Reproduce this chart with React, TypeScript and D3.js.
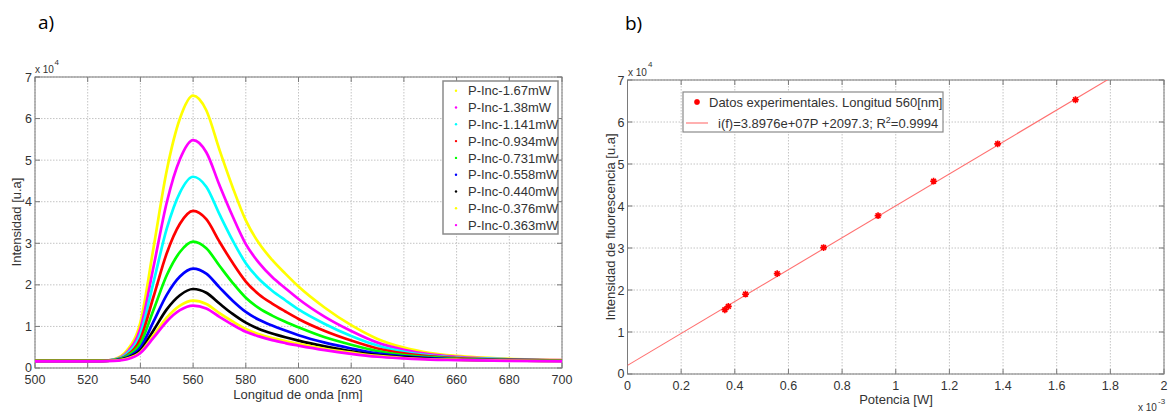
import React from 'react';
import * as d3 from 'd3';

// ---- panel a) : emission spectra ----
const wavelengths = [500, 525, 530, 535, 540, 545, 550, 555, 560, 565, 570, 575, 580, 585, 590, 595, 600, 610, 620, 630, 640, 650, 660, 680, 700];

const spec167 = [1700, 1700, 2100, 4300, 11000, 29000, 47500, 60000, 65500, 62000, 52500, 43500, 35500, 30000, 26000, 22700, 19600, 14500, 10300, 7000, 4900, 3600, 2900, 2200, 1900];
const spec138 = [1700, 1700, 2000, 3800, 9500, 24400, 39800, 50200, 54800, 51900, 44000, 36500, 29800, 25300, 21900, 19200, 16600, 12300, 8900, 6100, 4400, 3300, 2700, 2100, 1900];
const spec1141 = [1700, 1700, 2000, 3500, 8200, 20700, 33500, 42200, 46000, 43600, 37000, 30700, 25200, 21400, 18600, 16300, 14100, 10600, 7700, 5400, 3900, 3000, 2500, 2100, 1800];
const spec0934 = [1700, 1700, 1900, 3100, 7000, 17200, 27600, 34700, 37800, 35800, 30400, 25300, 20800, 17700, 15500, 13600, 11800, 8900, 6600, 4700, 3500, 2800, 2400, 2000, 1800];
const spec0731 = [1700, 1700, 1900, 2900, 5900, 14000, 22300, 27900, 30400, 28800, 24600, 20500, 16900, 14400, 12600, 11100, 9800, 7400, 5600, 4100, 3100, 2600, 2200, 1900, 1800];
const spec0558 = [1700, 1700, 1800, 2600, 4900, 11200, 17600, 22000, 23900, 22700, 19400, 16200, 13500, 11600, 10200, 9000, 7900, 6100, 4700, 3500, 2800, 2400, 2100, 1900, 1800];
const spec0440 = [1700, 1700, 1800, 2400, 4200, 9100, 14100, 17500, 19000, 18100, 15500, 13000, 10900, 9400, 8300, 7400, 6600, 5200, 4000, 3100, 2600, 2200, 2000, 1800, 1700];
const spec0376 = [1700, 1700, 1800, 2300, 3800, 7900, 12100, 15000, 16200, 15400, 13200, 11200, 9400, 8100, 7200, 6500, 5800, 4600, 3700, 2900, 2400, 2100, 2000, 1800, 1700];
const spec0363 = [1600, 1600, 1700, 2100, 3600, 7300, 11200, 13900, 15000, 14300, 12300, 10400, 8700, 7600, 6700, 6000, 5400, 4300, 3400, 2700, 2300, 2000, 1900, 1700, 1600];

const spectra = [spec167, spec138, spec1141, spec0934, spec0731, spec0558, spec0440, spec0376, spec0363];
const seriesLabels = ['P-Inc-1.67mW', 'P-Inc-1.38mW', 'P-Inc-1.141mW', 'P-Inc-0.934mW', 'P-Inc-0.731mW', 'P-Inc-0.558mW', 'P-Inc-0.440mW', 'P-Inc-0.376mW', 'P-Inc-0.363mW'];
const seriesColors = ['#ffff00', '#ff00ff', '#00ffff', '#ff0000', '#00ff00', '#0000ff', '#000000', '#ffff00', '#ff00ff'];

const xTicksA = [500, 520, 540, 560, 580, 600, 620, 640, 660, 680, 700];
const yTicks = [0, 1, 2, 3, 4, 5, 6, 7];

// ---- panel b) : peak intensity vs power ----
const powers = [0.363e-3, 0.376e-3, 0.440e-3, 0.558e-3, 0.731e-3, 0.934e-3, 1.141e-3, 1.38e-3, 1.67e-3];
const peakIntensity = [15300, 16100, 19000, 23900, 30100, 37700, 45900, 54800, 65300];
const fitP = [0, 2e-3];
const fitI = [2050, 78050];
const xTicksB = [0, 0.2, 0.4, 0.6, 0.8, 1, 1.2, 1.4, 1.6, 1.8, 2];

const FONT = '"Liberation Sans", Arial, sans-serif';
const TXT = '#333';
const FRAME = '#7a7a7a';
const GRID = '#c4c4c4';

function Frame({ x, y, xTicks, yTicksV, xVal, xFmt, labelDy }) {
  const [x0, x1] = x.range();
  const [y1, y0] = y.range();
  return (
    <g>
      {xTicks.map((t, i) => (
        <line key={'gx' + i} x1={x(xVal(t))} x2={x(xVal(t))} y1={y0} y2={y1} stroke={GRID} strokeDasharray="1.5,1.5" />
      ))}
      {yTicksV.map((t, i) => (
        <line key={'gy' + i} x1={x0} x2={x1} y1={y(t * 1e4)} y2={y(t * 1e4)} stroke={GRID} strokeDasharray="1.5,1.5" />
      ))}
      <rect x={x0} y={y0} width={x1 - x0} height={y1 - y0} fill="none" stroke={FRAME} strokeWidth={1} />
      {xTicks.map((t, i) => (
        <g key={'tx' + i}>
          <line x1={x(xVal(t))} x2={x(xVal(t))} y1={y1} y2={y1 - 5} stroke={FRAME} />
          <line x1={x(xVal(t))} x2={x(xVal(t))} y1={y0} y2={y0 + 5} stroke={FRAME} />
          <text x={x(xVal(t))} y={y1 + labelDy} textAnchor="middle" fontSize={12.5} fill={TXT}>{xFmt(t)}</text>
        </g>
      ))}
      {yTicksV.map((t, i) => (
        <g key={'ty' + i}>
          <line x1={x0} x2={x0 + 5} y1={y(t * 1e4)} y2={y(t * 1e4)} stroke={FRAME} />
          <line x1={x1} x2={x1 - 5} y1={y(t * 1e4)} y2={y(t * 1e4)} stroke={FRAME} />
          <text x={x0 - 3} y={y(t * 1e4) - (t === 0 ? 1 : 0)} dy="0.36em" textAnchor="end" fontSize={12.5} fill={TXT}>{t}</text>
        </g>
      ))}
    </g>
  );
}

function Asterisk({ cx, cy, r, color }) {
  const d = [0, 45, 90, 135].map(a => {
    const rad = (a * Math.PI) / 180;
    const dx = Math.cos(rad) * r, dy = Math.sin(rad) * r;
    return `M${cx - dx},${cy - dy}L${cx + dx},${cy + dy}`;
  }).join('');
  return <path d={d} stroke={color} strokeWidth={1.6} fill="none" />;
}

export default function App() {
  // panel a
  const xA = d3.scaleLinear().domain([500, 700]).range([35, 562]);
  const yA = d3.scaleLinear().domain([0, 70000]).range([368, 77]);
  const lineA = d3.line<number>()
    .x((_, i) => xA(wavelengths[i]))
    .y(d => yA(d))
    .curve(d3.curveMonotoneX);

  // panel b
  const xB = d3.scaleLinear().domain([0, 2e-3]).range([627.5, 1164]);
  const yB = d3.scaleLinear().domain([0, 70000]).range([374, 80]);
  const fitLine = d3.line<number>()
    .x((_, i) => xB(fitP[i]))
    .y(d => yB(d));

  return (
    <svg width={1168} height={413} style={{ position: 'absolute', left: 0, top: 0, background: '#fff' }} fontFamily={FONT}>
      <defs>
        <clipPath id="clipA"><rect x={35} y={77} width={527} height={291} /></clipPath>
        <clipPath id="clipB"><rect x={627.5} y={80} width={536.5} height={294} /></clipPath>
      </defs>

      {/* panel a */}
      <text x={38} y={29} fontSize={19} fontFamily='"Open Sans", sans-serif' fill="#000">a)</text>
      <Frame x={xA} y={yA} xTicks={xTicksA} yTicksV={yTicks} xVal={t => t} xFmt={t => String(t)} labelDy={16} />
      <g clipPath="url(#clipA)">
        {spectra.map((s, i) => (
          <path key={i} d={lineA(s)} fill="none" stroke={seriesColors[i]} strokeWidth={2.7} strokeLinejoin="round" />
        ))}
      </g>
      <text x={35} y={73} fontSize={10} fill={TXT}>x 10</text>
      <text x={54.5} y={65} fontSize={8} fill={TXT}>4</text>
      <text x={298} y={399} textAnchor="middle" fontSize={13} fill={TXT}>Longitud de onda [nm]</text>
      <text transform="translate(21,222) rotate(-90)" textAnchor="middle" fontSize={13} fill={TXT}>Intensidad [u.a]</text>

      <rect x={443} y={81} width={115} height={153} fill="#fff" stroke="#8a8a8a" strokeWidth={1.5} />
      {seriesLabels.map((l, i) => (
        <g key={l + i}>
          <circle cx={456} cy={90.7 + i * 16.8} r={1.2} fill={seriesColors[i]} />
          <text x={468} y={90.7 + i * 16.8} dy="0.36em" fontSize={13} fill={TXT}>{l}</text>
        </g>
      ))}

      {/* panel b */}
      <text x={625} y={30} fontSize={19} fontFamily='"Open Sans", sans-serif' fill="#000">b)</text>
      <Frame x={xB} y={yB} xTicks={xTicksB} yTicksV={yTicks} xVal={t => t * 1e-3} xFmt={t => d3.format('~g')(t)} labelDy={16} />
      <g clipPath="url(#clipB)">
        <path d={fitLine(fitI)} fill="none" stroke="#ff7070" strokeWidth={1.1} />
        {powers.map((p, i) => (
          <Asterisk key={i} cx={xB(p)} cy={yB(peakIntensity[i])} r={3.4} color="#ff0000" />
        ))}
      </g>
      <text x={628} y={76} fontSize={10} fill={TXT}>x 10</text>
      <text x={648} y={67} fontSize={8} fill={TXT}>4</text>
      <text x={1138} y={411} fontSize={10} fill={TXT}>x 10</text>
      <text x={1158} y={404} fontSize={8} fill={TXT}>-3</text>
      <text x={896} y={404} textAnchor="middle" fontSize={13} fill={TXT}>Potencia [W]</text>
      <text transform="translate(615,227) rotate(-90)" textAnchor="middle" fontSize={13} fill={TXT}>Intensidad de fluorescencia [u.a]</text>

      <rect x={683} y={92} width={260} height={40} fill="#fff" stroke="#8a8a8a" strokeWidth={1.2} />
      <Asterisk cx={697} cy={102} r={3} color="#ff0000" />
      <text x={709} y={102} dy="0.36em" fontSize={13} fill={TXT}>Datos experimentales. Longitud 560[nm]</text>
      <line x1={686} x2={708} y1={123} y2={123} stroke="#ff7070" strokeWidth={1.1} />
      <text x={718} y={123} dy="0.36em" fontSize={13} fill={TXT}>
        i(f)=3.8976e+07P +2097.3; R<tspan fontSize={9} dy="-5">2</tspan><tspan dy="5">=0.9994</tspan>
      </text>
    </svg>
  );
}
